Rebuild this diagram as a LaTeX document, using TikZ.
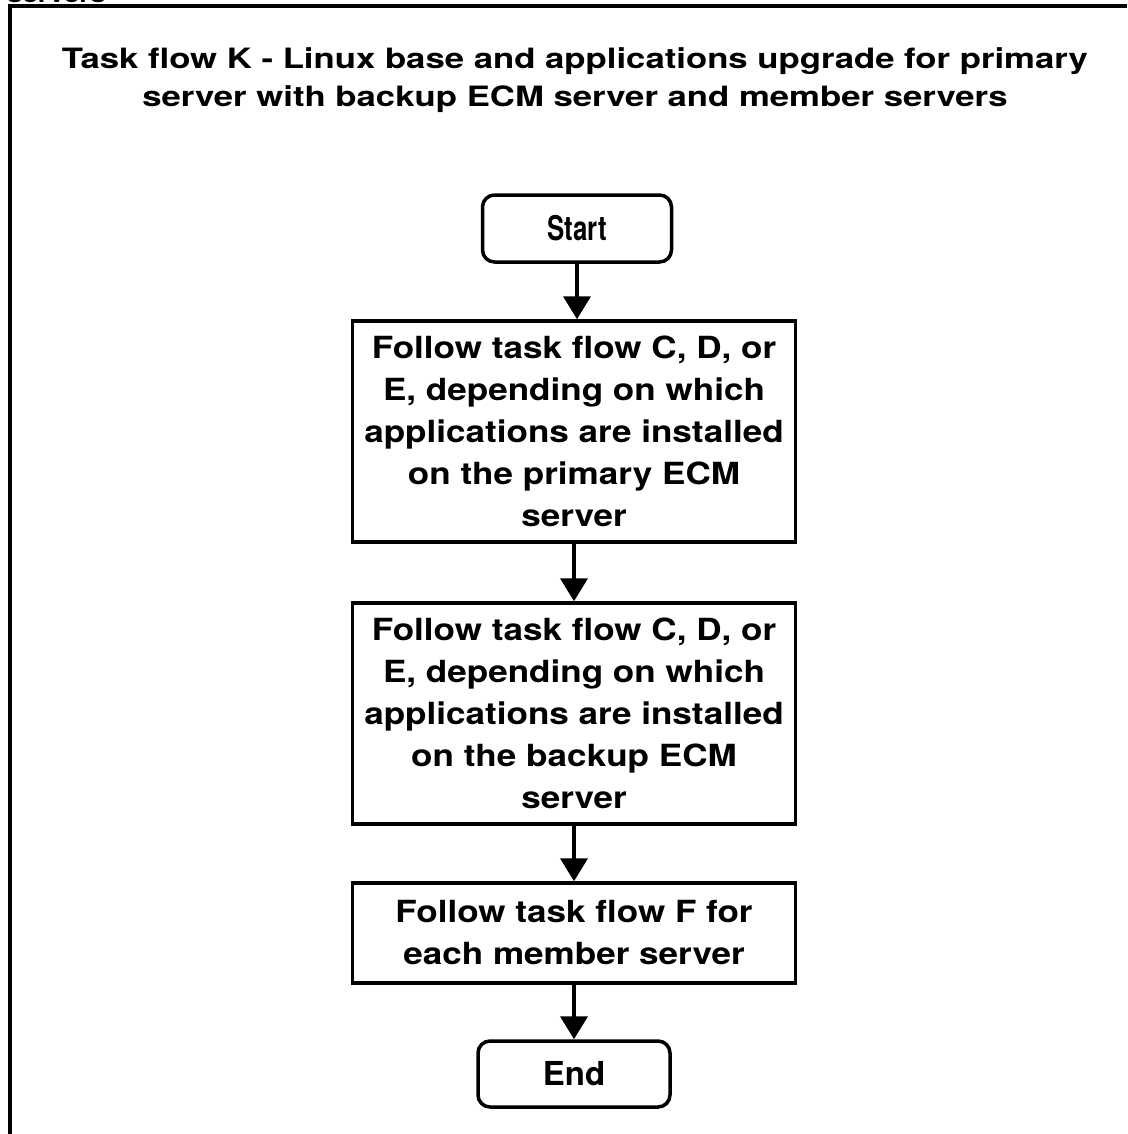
\documentclass[tikz,border=0pt]{standalone}
\usepackage{fontspec}
\setmainfont{TeX Gyre Heros}
\newfontfamily\titlefont[FakeStretch=1.24]{TeX Gyre Heros}
\newfontfamily\boxfont[FakeStretch=1.15]{TeX Gyre Heros}
\newfontfamily\narrowfont[FakeStretch=0.76]{TeX Gyre Heros}
\usetikzlibrary{
  positioning,
  arrows.meta
}

\begin{document}
\begin{tikzpicture}[x=1pt,y=-1pt,>={Triangle[length=23pt,width=27pt]},
    stepbox/.style={draw,line width=3.5pt,minimum width=443pt,inner sep=0pt,align=center,
      font=\boxfont\bfseries\fontsize{30.5}{42}\selectfont},
    termbox/.style={draw,line width=3.5pt,rounded corners=12pt,inner sep=0pt},
    flow/.style={->,line width=4pt}]
            \useasboundingbox (0,0) rectangle (1127,1134);
            \fill[white] (0,0) rectangle (1127,1134);
            \draw[line width=4pt] (10,1134) -- (10,6.5) -- (1127,6.5);
            \node[anchor=base west,inner sep=0pt,font=\boxfont\bfseries\fontsize{24}{28}\selectfont] (cut) at (7,3) {servers};

            \node[anchor=north,inner sep=0pt,align=center,font=\titlefont\bfseries\fontsize{28}{38}\selectfont] (title) at (575,47)
              {Task flow K - Linux base and applications upgrade for primary\\server with backup ECM server and member servers};

            \node[termbox,minimum width=189pt,minimum height=67pt,font=\narrowfont\bfseries\fontsize{34}{40}\selectfont] (start) at (577,228.5) {Start};
            \node[stepbox,minimum height=221pt] (primary) at (574,431.5)
              {Follow task flow C, D, or\\E, depending on which\\applications are installed\\on the primary ECM\\server};
            \node[stepbox,minimum height=221pt] (backup) at (574,713.5)
              {Follow task flow C, D, or\\E, depending on which\\applications are installed\\on the backup ECM\\server};
            \node[stepbox,minimum height=100pt] (member) at (574,933)
              {Follow task flow F for\\each member server};
            \node[termbox,minimum width=192pt,minimum height=66pt,font=\bfseries\fontsize{33}{40}\selectfont] (finish) at (574,1074) {End};

            \draw[flow] (start) -- (start |- primary.north);
            \draw[flow] (primary) -- (backup);
            \draw[flow] (backup) -- (member);
            \draw[flow] (member) -- (finish);
        \end{tikzpicture}
\end{document}
